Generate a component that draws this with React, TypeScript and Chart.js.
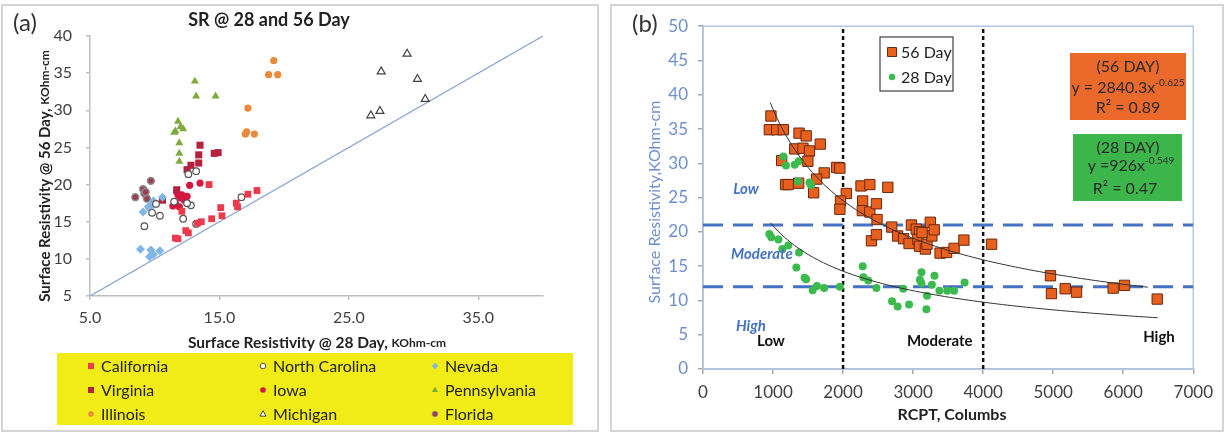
import React, { useEffect, useRef } from "react";
import { Chart, registerables } from "chart.js";
Chart.register(...registerables);

const FONT = "Lato, 'Open Sans', sans-serif";

// ---------- Panel (a) data: [SR 28 day, SR 56 day] ----------
const CALIFORNIA = [[14.2, 20.0], [17.2, 18.7], [17.9, 19.2], [16.3, 17.5], [16.4, 17.0], [15.1, 16.9], [15.2, 15.8], [14.4, 15.4], [13.6, 15.0], [13.3, 14.8], [11.6, 12.8], [11.8, 12.7], [12.4, 13.8], [12.6, 13.5], [12.1, 16.4]];
const NORTH_CAROLINA = [[9.2, 14.4], [9.8, 16.2], [10.4, 15.8], [11.5, 17.7], [12.2, 15.4], [12.8, 17.2], [13.2, 14.7], [13.2, 21.8], [12.6, 21.4], [10.1, 17.4], [16.7, 18.3], [12.5, 17.5]];
const NEVADA = [[8.9, 11.3], [9.7, 11.2], [10.4, 11.1], [9.6, 10.3], [9.9, 10.6], [9.1, 16.3], [9.7, 17.2], [9.5, 17.0], [9.9, 17.8], [10.6, 18.3], [9.6, 16.8], [10.0, 17.5]];
const VIRGINIA = [[13.5, 25.3], [13.4, 24.0], [13.4, 22.9], [12.8, 22.6], [12.5, 22.0], [14.9, 24.3], [14.6, 24.2], [11.7, 19.3], [10.6, 17.9]];
const IOWA = [[11.7, 19.0], [11.4, 17.1], [12.1, 18.6], [12.3, 17.9], [11.8, 18.6], [13.5, 20.2], [12.7, 19.9], [11.6, 17.5], [12.0, 18.2], [11.9, 17.0], [12.5, 18.4]];
const PENNSYLVANIA = [[13.1, 33.9], [13.2, 31.9], [14.7, 31.9], [11.8, 28.5], [11.6, 27.2], [12.0, 27.8], [12.2, 27.5], [11.5, 27.0], [11.9, 25.6], [11.9, 24.2], [11.9, 23.1]];
const ILLINOIS = [[19.2, 36.7], [18.8, 34.8], [19.5, 34.8], [17.2, 30.3], [17.0, 26.8], [17.1, 27.1], [17.7, 26.8]];
const MICHIGAN = [[29.5, 37.6], [27.5, 35.2], [30.3, 34.2], [30.9, 31.5], [26.7, 29.3], [27.4, 29.9]];
const FLORIDA = [[8.5, 18.3], [9.1, 19.4], [9.2, 18.8], [9.7, 20.5], [9.4, 18.1], [9.3, 19.0]];
const DIAGONAL = [5, 40];
const X_TICKS_A = [5, 15, 25, 35];
const Y_RANGE_A = [5, 40];

// ---------- Panel (b) data: [RCPT, SR] ----------
const DAY56 = [[970, 36.9], [947, 34.9], [1053, 34.9], [1147, 34.9], [1371, 34.4], [1473, 34.0], [1674, 32.8], [1310, 32.1], [1427, 32.2], [1520, 31.8], [1123, 30.4], [1497, 30.3], [1907, 29.4], [1954, 29.3], [1730, 28.6], [1622, 27.7], [1179, 26.9], [1217, 26.9], [1366, 27.1], [1580, 25.7], [2046, 25.6], [2256, 26.7], [2382, 26.9], [2639, 26.5], [1963, 24.5], [1954, 23.3], [2280, 24.5], [2275, 23.1], [2382, 22.9], [2476, 24.1], [2485, 21.8], [2405, 18.7], [2476, 19.6], [2695, 20.7], [2779, 19.4], [2863, 19.0], [2942, 18.3], [2975, 21.0], [3045, 20.4], [3091, 20.0], [3068, 18.9], [3091, 17.9], [3175, 17.5], [3198, 18.2], [3245, 21.4], [3268, 19.4], [3301, 20.3], [3385, 16.9], [3478, 17.0], [3585, 17.6], [3725, 18.8], [4121, 18.2], [3128, 19.9], [4961, 13.6], [4975, 11.0], [5171, 11.7], [5333, 11.2], [5856, 11.8], [6018, 12.2], [6485, 10.2]];
const DAY28 = [[1147, 31.0], [1184, 29.7], [1310, 29.8], [1366, 30.3], [1357, 27.4], [1520, 27.2], [1543, 26.8], [947, 19.7], [975, 19.2], [1077, 18.9], [1133, 17.5], [1217, 18.0], [1371, 17.0], [1333, 14.8], [1450, 13.3], [1473, 13.1], [1566, 11.5], [1627, 12.1], [1730, 11.8], [1954, 12.0], [2280, 15.0], [2289, 13.4], [2359, 12.9], [2476, 11.8], [2699, 9.9], [2779, 9.1], [2942, 9.4], [2858, 11.7], [3119, 12.5], [3198, 10.7], [3189, 8.7], [3268, 12.3], [3305, 13.6], [3119, 14.1], [3096, 13.0], [3375, 11.4], [3487, 11.4], [3585, 11.4], [3734, 12.6]];
const TREND_56 = { a: 2840.3, b: -0.625, from: 960, to: 6350 };
const TREND_28 = { a: 926, b: -0.549, from: 960, to: 6490 };
const SR_CLASS_LINES = [21, 12];
const RCPT_CLASS_LINES = [2000, 4000];
const X_RANGE_B = [0, 7000];
const Y_RANGE_B = [0, 50];

const pts = (arr: number[][]) => arr.map(([x, y]) => ({ x, y }));
const trend = (t: { a: number; b: number; from: number; to: number }) => {
  const out: { x: number; y: number }[] = [];
  const n = 80;
  for (let i = 0; i <= n; i++) {
    const x = t.from + ((t.to - t.from) * i) / n;
    out.push({ x, y: t.a * Math.pow(x, t.b) });
  }
  return out;
};

type Part = { text: string; font: string; color: string; dy?: number };
function drawParts(ctx: CanvasRenderingContext2D, parts: Part[], cx: number, cy: number, rotate = false) {
  ctx.save();
  ctx.translate(cx, cy);
  if (rotate) ctx.rotate(-Math.PI / 2);
  let total = 0;
  parts.forEach((p) => { ctx.font = p.font; total += ctx.measureText(p.text).width; });
  let x = -total / 2;
  ctx.textBaseline = "middle";
  ctx.textAlign = "left";
  parts.forEach((p) => {
    ctx.font = p.font;
    ctx.fillStyle = p.color;
    ctx.fillText(p.text, x, p.dy || 0);
    x += ctx.measureText(p.text).width;
  });
  ctx.restore();
}

function marker(ctx: CanvasRenderingContext2D, style: string, x: number, y: number, r: number, fill: string, stroke: string, lw: number) {
  ctx.save();
  ctx.beginPath();
  if (style === "rect") ctx.rect(x - r, y - r, 2 * r, 2 * r);
  else if (style === "rectRot") { ctx.moveTo(x, y - r * 1.2); ctx.lineTo(x + r, y); ctx.lineTo(x, y + r * 1.2); ctx.lineTo(x - r, y); ctx.closePath(); }
  else if (style === "triangle") { ctx.moveTo(x, y - r * 1.1); ctx.lineTo(x + r, y + r * 0.7); ctx.lineTo(x - r, y + r * 0.7); ctx.closePath(); }
  else ctx.arc(x, y, r, 0, Math.PI * 2);
  ctx.fillStyle = fill;
  ctx.fill();
  if (lw > 0) { ctx.lineWidth = lw; ctx.strokeStyle = stroke; ctx.stroke(); }
  ctx.restore();
}

const STATES = [
  { label: "California", data: CALIFORNIA, style: "rect", r: 4.8, fill: "#ea3a4c", stroke: "#ea3a4c", lw: 0 },
  { label: "North Carolina", data: NORTH_CAROLINA, style: "circle", r: 3.3, fill: "#ffffff", stroke: "#555555", lw: 1.2 },
  { label: "Nevada", data: NEVADA, style: "rectRot", r: 4.5, fill: "#82b5e8", stroke: "#82b5e8", lw: 0 },
  { label: "Virginia", data: VIRGINIA, style: "rect", r: 5, fill: "#b3233f", stroke: "#b3233f", lw: 0 },
  { label: "Iowa", data: IOWA, style: "circle", r: 3.6, fill: "#d5173f", stroke: "#d5173f", lw: 0 },
  { label: "Pennsylvania", data: PENNSYLVANIA, style: "triangle", r: 4.6, fill: "#7dab3b", stroke: "#7dab3b", lw: 0 },
  { label: "Illinois", data: ILLINOIS, style: "circle", r: 3.6, fill: "#ea8a3a", stroke: "#ea8a3a", lw: 0 },
  { label: "Michigan", data: MICHIGAN, style: "triangle", r: 4.6, fill: "#ffffff", stroke: "#444444", lw: 1.2 },
  { label: "Florida", data: FLORIDA, style: "circle", r: 3.4, fill: "#9b3c50", stroke: "#8c8c8c", lw: 1.5 },
];

export default function App() {
  const refA = useRef<HTMLCanvasElement>(null);
  const refB = useRef<HTMLCanvasElement>(null);

  useEffect(() => {
    const gray = "#bfbfbf";
    const textA = {
      id: "textA",
      afterDraw(chart: any) {
        const ctx = chart.ctx as CanvasRenderingContext2D;
        ctx.save();
        ctx.fillStyle = "#333";
        ctx.font = `24px ${FONT}`;
        ctx.textAlign = "left";
        ctx.textBaseline = "middle";
        ctx.fillText("(a)", 10, 17);
        ctx.font = `bold 18px ${FONT}`;
        ctx.fillStyle = "#222";
        ctx.textAlign = "center";
        ctx.fillText("SR @ 28 and 56 Day", 266, 14);
        ctx.restore();
        drawParts(ctx, [
          { text: "Surface Resistivity @ 56 Day, ", font: `bold 15px ${FONT}`, color: "#222" },
          { text: "KOhm-cm", font: `bold 12px ${FONT}`, color: "#222" },
        ], 42, 170, true);
        drawParts(ctx, [
          { text: "Surface Resistivity @ 28 Day, ", font: `bold 15.5px ${FONT}`, color: "#222" },
          { text: "KOhm-cm", font: `bold 12px ${FONT}`, color: "#222" },
        ], 314, 337);
        // legend
        ctx.save();
        ctx.fillStyle = "#f1ec16";
        ctx.fillRect(54, 347, 516, 72);
        const colsM = [88, 260, 432];
        const rows = [360, 384, 408];
        STATES.forEach((s, i) => {
          const cx = colsM[i % 3];
          const cy = rows[Math.floor(i / 3)];
          marker(ctx, s.style, cx, cy, s.style === "circle" ? 2.8 : 3, s.fill, s.stroke, s.lw ? 1 : 0);
          ctx.font = `16px ${FONT}`;
          ctx.fillStyle = "#222";
          ctx.textAlign = "left";
          ctx.textBaseline = "middle";
          ctx.fillText(s.label, cx + 10, cy + 1);
        });
        ctx.restore();
      },
    };

    const chartA = new Chart(refA.current!, {
      type: "scatter",
      data: {
        datasets: [
          {
            data: DIAGONAL.map((v) => ({ x: v, y: v })),
            showLine: true,
            borderColor: "#8ea7d6",
            borderWidth: 1.3,
            pointRadius: 0,
            order: 10,
          } as any,
          ...STATES.map((s, i) => ({
            label: s.label,
            data: pts(s.data),
            pointStyle: s.style,
            pointRadius: s.r,
            backgroundColor: s.fill,
            borderColor: s.stroke,
            borderWidth: s.lw,
            order: i,
          })),
        ],
      },
      options: {
        responsive: false,
        animation: false,
        layout: { padding: { left: 0, top: 30, right: 53, bottom: 0 } },
        plugins: { legend: { display: false }, tooltip: { enabled: false }, title: { display: false } },
        scales: {
          x: {
            type: "linear",
            min: DIAGONAL[0],
            max: DIAGONAL[1],
            afterBuildTicks: (s: any) => { s.ticks = X_TICKS_A.map((v) => ({ value: v })); },
            afterFit: (s: any) => { s.height = 136; },
            ticks: { callback: (v: any) => Number(v).toFixed(1), font: { size: 16, family: FONT }, color: "#404040", padding: 8, maxRotation: 0 },
            grid: { drawOnChartArea: false, tickLength: 4, color: gray, lineWidth: 1.5 },
            border: { color: gray, width: 1.5 },
          },
          y: {
            type: "linear",
            min: Y_RANGE_A[0],
            max: Y_RANGE_A[1],
            afterFit: (s: any) => { s.width = 87; },
            ticks: { stepSize: 5, font: { size: 16, family: FONT }, color: "#404040", padding: 14 },
            grid: { drawOnChartArea: false, tickLength: 4, color: gray, lineWidth: 1.5 },
            border: { color: gray, width: 1.5 },
          },
        },
      } as any,
      plugins: [textA],
    });

    const blue = "#4472c4";
    const ytxt = "#6d8fcd";
    const textB = {
      id: "textB",
      beforeDatasetsDraw(chart: any) {
        const { ctx, chartArea: a } = chart;
        ctx.save();
        ctx.strokeStyle = "#b4c7e7";
        ctx.lineWidth = 1.5;
        ctx.strokeRect(a.left, a.top, a.right - a.left, a.bottom - a.top);
        ctx.restore();
      },
      afterDraw(chart: any) {
        const ctx = chart.ctx as CanvasRenderingContext2D;
        const xs = chart.scales.x;
        const ys = chart.scales.y;
        ctx.save();
        ctx.fillStyle = "#333";
        ctx.font = `24px ${FONT}`;
        ctx.textAlign = "left";
        ctx.textBaseline = "middle";
        ctx.fillText("(b)", 20, 18);
        ctx.restore();
        drawParts(ctx, [{ text: "Surface Resistivity,KOhm-cm", font: `16px ${FONT}`, color: ytxt }], 43, 196, true);
        drawParts(ctx, [{ text: "RCPT, Columbs", font: `bold 16px ${FONT}`, color: "#222" }], 340, 409);
        // in-plot class labels
        ctx.save();
        ctx.textBaseline = "middle";
        ctx.font = `italic bold 15px ${FONT}`;
        ctx.fillStyle = blue;
        ctx.textAlign = "center";
        ctx.fillText("Low", xs.getPixelForValue(615), ys.getPixelForValue(26.3));
        ctx.textAlign = "left";
        ctx.fillText("Moderate", xs.getPixelForValue(400), ys.getPixelForValue(16.7));
        ctx.fillText("High", xs.getPixelForValue(470), ys.getPixelForValue(6.3));
        ctx.font = `bold 15px ${FONT}`;
        ctx.fillStyle = "#111";
        ctx.textAlign = "center";
        ctx.fillText("Low", xs.getPixelForValue(970), ys.getPixelForValue(4.1));
        ctx.fillText("Moderate", xs.getPixelForValue(3380), ys.getPixelForValue(4.1));
        ctx.fillText("High", xs.getPixelForValue(6510), ys.getPixelForValue(4.7));
        ctx.restore();
        // legend
        ctx.save();
        ctx.fillStyle = "#fff";
        ctx.fillRect(268, 31, 73, 54);
        ctx.strokeStyle = "#404040";
        ctx.lineWidth = 1.2;
        ctx.strokeRect(268, 31, 73, 54);
        marker(ctx, "rect", 280, 46, 4.5, "#e8601d", "#6b2a0e", 1);
        marker(ctx, "circle", 280, 71, 3.2, "#3dba4e", "#3dba4e", 0);
        ctx.font = `16px ${FONT}`;
        ctx.fillStyle = "#222";
        ctx.textAlign = "left";
        ctx.textBaseline = "middle";
        ctx.fillText("56 Day", 289, 47);
        ctx.fillText("28 Day", 289, 72);
        // equation boxes
        ctx.fillStyle = "#eb6a2b";
        ctx.fillRect(458, 47, 116, 67);
        ctx.fillStyle = "#3cb64b";
        ctx.fillRect(461, 128, 109, 67);
        ctx.restore();
        const dk = "#2a2a2a";
        const f = `16px ${FONT}`;
        const sf = `10px ${FONT}`;
        drawParts(ctx, [{ text: "(56 DAY)", font: f, color: dk }], 516, 61);
        drawParts(ctx, [{ text: "y = 2840.3x", font: f, color: dk }, { text: "-0.625", font: sf, color: dk, dy: -5 }], 516, 82);
        drawParts(ctx, [{ text: "R² = 0.89", font: f, color: dk }], 516, 102);
        drawParts(ctx, [{ text: "(28 DAY)", font: f, color: dk }], 516, 142);
        drawParts(ctx, [{ text: "y =926x", font: f, color: dk }, { text: "-0.549", font: sf, color: dk, dy: -5 }], 519, 160);
        drawParts(ctx, [{ text: "R² = 0.47", font: f, color: dk }], 513, 183);
      },
    };

    const hLines = SR_CLASS_LINES.map((v) => ({
      data: [{ x: X_RANGE_B[0], y: v }, { x: X_RANGE_B[1], y: v }],
      showLine: true,
      borderColor: blue,
      borderWidth: 3,
      borderDash: [20, 10],
      pointRadius: 0,
      order: 5,
    }));
    const vLines = RCPT_CLASS_LINES.map((v) => ({
      data: [{ x: v, y: Y_RANGE_B[0] }, { x: v, y: Y_RANGE_B[1] }],
      showLine: true,
      borderColor: "#111",
      borderWidth: 2.5,
      borderDash: [4, 3],
      pointRadius: 0,
      order: 5,
    }));

    const chartB = new Chart(refB.current!, {
      type: "scatter",
      data: {
        datasets: [
          ...(hLines as any[]),
          ...(vLines as any[]),
          {
            label: "56 Day",
            data: pts(DAY56),
            pointStyle: "rect",
            pointRadius: 7.3,
            backgroundColor: "#e8601d",
            borderColor: "#6b2a0e",
            borderWidth: 1,
            order: 2,
          },
          {
            label: "28 Day",
            data: pts(DAY28),
            pointStyle: "circle",
            pointRadius: 4,
            backgroundColor: "#3dba4e",
            borderColor: "#3dba4e",
            borderWidth: 0,
            order: 1,
          },
          { data: trend(TREND_56), showLine: true, borderColor: "#333", borderWidth: 1, pointRadius: 0, order: 0 },
          { data: trend(TREND_28), showLine: true, borderColor: "#333", borderWidth: 1, pointRadius: 0, order: 0 },
        ],
      },
      options: {
        responsive: false,
        animation: false,
        layout: { padding: { left: 0, top: 13, right: 18, bottom: 0 } },
        plugins: { legend: { display: false }, tooltip: { enabled: false }, title: { display: false } },
        scales: {
          x: {
            type: "linear",
            min: X_RANGE_B[0],
            max: X_RANGE_B[1],
            afterFit: (s: any) => { s.height = 63; },
            ticks: { stepSize: 1000, callback: (v: any) => String(v), font: { size: 17, family: FONT }, color: "#404040", padding: 8, maxRotation: 0 },
            grid: { drawOnChartArea: false, tickLength: 5, color: "#a6a6a6", lineWidth: 1.5 },
            border: { color: "#a6a6a6", width: 1.5 },
          },
          y: {
            type: "linear",
            min: Y_RANGE_B[0],
            max: Y_RANGE_B[1],
            afterFit: (s: any) => { s.width = 91; },
            ticks: { stepSize: 5, callback: (v: any) => String(v), font: { size: 17, family: FONT }, color: ytxt, padding: 10 },
            grid: { drawOnChartArea: false, tickLength: 5, color: "#a6a6a6", lineWidth: 1.5 },
            border: { color: "#a6a6a6", width: 1.5 },
          },
        },
      } as any,
      plugins: [textB],
    });

    return () => {
      chartA.destroy();
      chartB.destroy();
    };
  }, []);

  const frame = (left: number, width: number): React.CSSProperties => ({
    position: "absolute",
    left,
    top: 4,
    width,
    height: 428,
    border: "2px solid #d4d4d4",
    boxSizing: "border-box",
  });

  return (
    <div style={{ position: "fixed", left: 0, top: 0, width: 1225, height: 437, background: "#fff", overflow: "hidden" }}>
      <div style={frame(1, 598)} />
      <div style={frame(610, 614)} />
      <canvas ref={refA} width={593} height={426} style={{ position: "absolute", left: 3, top: 6, width: 593, height: 426 }} />
      <canvas ref={refB} width={609} height={426} style={{ position: "absolute", left: 612, top: 6, width: 609, height: 426 }} />
    </div>
  );
}
